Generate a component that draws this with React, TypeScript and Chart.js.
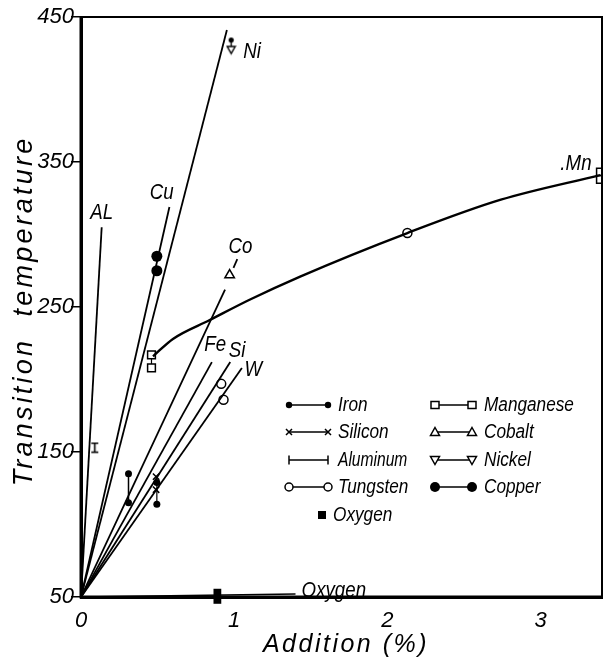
import React, { useEffect, useRef } from "react";
import { Chart, registerables } from "chart.js";

Chart.register(...registerables);

const FONT = "'Liberation Sans', Arimo, sans-serif";

// ---- axes ----
const xTickValues = [0, 1, 2, 3];
const yTickValues = [50, 150, 250, 350, 450];
const xRange = [0, 3.4];
const yRange = [50, 450];

// ---- straight lines from origin [x, y] ----
const aluminumLine = [[0, 50], [0.135, 305]];
const copperLine = [[0, 50], [0.577, 319]];
const nickelLine = [[0, 50], [0.952, 441]];
const cobaltLine = [[0, 50], [0.94, 262]];
const cobaltDash = [[0.995, 277], [1.02, 283]];
const ironLine = [[0, 50], [0.854, 212]];
const siliconLine = [[0, 50], [0.974, 212]];
const tungstenLine = [[0, 50], [1.05, 208]];
const oxygenLine = [[0, 50], [1.4, 52]];
const manganeseCurve = [[0.47, 216], [0.6, 228], [0.84, 241], [1.1, 255], [1.43, 271], [2.13, 301], [2.74, 324], [3.39, 341]];

// ---- measured points ----
const ironPairA = [[0.31, 135], [0.31, 115]];
const ironPairB = [[0.495, 129], [0.495, 114]];
const siliconPoints = [[0.49, 133], [0.49, 124]];
const aluminumPoints = [[0.09, 153]];
const tungstenPoints = [[0.915, 197], [0.93, 186]];
const manganesePointsLow = [[0.46, 217], [0.46, 208]];
const manganesePointsMid = [[2.13, 301]];
const manganesePointsHigh = [[3.39, 343], [3.39, 338]];
const cobaltPoints = [[0.97, 272]];
const nickelPoints = [[0.98, 430]];
const copperPoints = [[0.495, 285], [0.495, 275]];
const oxygenPoints = [[0.89, 53], [0.89, 48]];

// ---- labels on the curves ----
const curveLabelText = ["AL", "Cu", "Ni", "Co", "Fe", "Si", "W", ".Mn", "Oxygen"];
const curveLabelX = [0.135, 0.527, 1.116, 1.04, 0.876, 1.018, 1.124, 3.23, 1.65];
const curveLabelY = [315, 329, 426, 291.6, 224, 220, 206.5, 349, 54];

// ---- legend ----
const legendLeft = ["Iron", "Silicon", "Aluminum", "Tungsten"];
const legendLeftKinds = ["dot", "x", "bar", "circle"];
const legendRight = ["Manganese", "Cobalt", "Nickel", "Copper"];
const legendRightKinds = ["square", "tri", "tridown", "bigdot"];
const legendSingle = "Oxygen";

const xTitle = "Addition (%)";
const yTitle = "Transition  temperature";

const toXY = (pts: number[][]) => pts.map(([x, y]) => ({ x, y }));

function squeezed(ctx: CanvasRenderingContext2D, text: string, x: number, y: number, sx: number) {
  ctx.save();
  ctx.translate(x, y);
  ctx.scale(sx, 1);
  ctx.fillText(text, 0, 0);
  ctx.restore();
}

function drawMark(ctx: CanvasRenderingContext2D, kind: string, px: number, py: number) {
  ctx.save();
  ctx.strokeStyle = "#000";
  ctx.fillStyle = "#000";
  ctx.lineWidth = 1.5;
  ctx.beginPath();
  if (kind === "dot") {
    ctx.arc(px, py, 3.2, 0, Math.PI * 2);
    ctx.fill();
  } else if (kind === "bigdot") {
    ctx.arc(px, py, 5, 0, Math.PI * 2);
    ctx.fill();
  } else if (kind === "x") {
    ctx.moveTo(px - 3, py - 3); ctx.lineTo(px + 3, py + 3);
    ctx.moveTo(px + 3, py - 3); ctx.lineTo(px - 3, py + 3);
    ctx.stroke();
  } else if (kind === "bar") {
    ctx.moveTo(px, py - 4.5); ctx.lineTo(px, py + 4.5);
    ctx.stroke();
  } else if (kind === "circle") {
    ctx.fillStyle = "#fff";
    ctx.arc(px, py, 4, 0, Math.PI * 2);
    ctx.fill(); ctx.stroke();
  } else if (kind === "square") {
    ctx.fillStyle = "#fff";
    ctx.rect(px - 4, py - 3.5, 8, 7);
    ctx.fill(); ctx.stroke();
  } else if (kind === "fsquare") {
    ctx.rect(px - 4, py - 4, 8, 8);
    ctx.fill();
  } else if (kind === "tri") {
    ctx.fillStyle = "#fff";
    ctx.moveTo(px, py - 4.5); ctx.lineTo(px + 4.5, py + 3.5); ctx.lineTo(px - 4.5, py + 3.5); ctx.closePath();
    ctx.fill(); ctx.stroke();
  } else if (kind === "tridown") {
    ctx.fillStyle = "#fff";
    ctx.moveTo(px, py + 4.5); ctx.lineTo(px + 4.5, py - 3.5); ctx.lineTo(px - 4.5, py - 3.5); ctx.closePath();
    ctx.fill(); ctx.stroke();
  }
  ctx.restore();
}

function makeAlMarker() {
  const c = document.createElement("canvas");
  c.width = 9; c.height = 12;
  const g = c.getContext("2d")!;
  g.strokeStyle = "#000"; g.lineWidth = 1.6;
  g.beginPath();
  g.moveTo(1, 1.5); g.lineTo(8, 1.5);
  g.moveTo(4.5, 1.5); g.lineTo(4.5, 10.5);
  g.moveTo(1, 10.5); g.lineTo(8, 10.5);
  g.stroke();
  return c;
}

function makeNiMarker() {
  const c = document.createElement("canvas");
  c.width = 11; c.height = 19;
  const g = c.getContext("2d")!;
  g.strokeStyle = "#000"; g.fillStyle = "#000"; g.lineWidth = 1.4;
  g.beginPath(); g.arc(5.5, 3.5, 2.6, 0, Math.PI * 2); g.fill();
  g.beginPath(); g.moveTo(5.5, 4); g.lineTo(5.5, 10); g.stroke();
  g.beginPath(); g.moveTo(1.5, 10); g.lineTo(9.5, 10); g.lineTo(5.5, 17); g.closePath(); g.stroke();
  return c;
}

const overlay = {
  id: "overlay",
  afterDraw(chart: any) {
    const { ctx, chartArea: a, scales } = chart;
    const sx = scales.x, sy = scales.y;
    ctx.save();
    // frame
    ctx.strokeStyle = "#000";
    ctx.lineWidth = 2;
    ctx.strokeRect(a.left, a.top, a.right - a.left, a.bottom - a.top);
    ctx.lineWidth = 3;
    ctx.beginPath();
    ctx.moveTo(a.left, a.top); ctx.lineTo(a.left, a.bottom); ctx.lineTo(a.right, a.bottom);
    ctx.stroke();

    // curve labels
    ctx.fillStyle = "#000";
    ctx.font = `italic 22px ${FONT}`;
    ctx.textAlign = "center";
    ctx.textBaseline = "middle";
    curveLabelText.forEach((t, i) => {
      squeezed(ctx, t, sx.getPixelForValue(curveLabelX[i]), sy.getPixelForValue(curveLabelY[i]), 0.85);
    });

    // legend
    ctx.font = `italic 20px ${FONT}`;
    ctx.textAlign = "left";
    const rowY = [405, 432, 460, 487];
    const drawEntry = (kind: string, x1: number, x2: number, y: number) => {
      ctx.save();
      ctx.strokeStyle = "#000"; ctx.lineWidth = 1.4;
      ctx.beginPath(); ctx.moveTo(x1, y); ctx.lineTo(x2, y); ctx.stroke();
      ctx.restore();
      drawMark(ctx, kind, x1, y);
      drawMark(ctx, kind, x2, y);
    };
    legendLeft.forEach((t, i) => {
      drawEntry(legendLeftKinds[i], 289, 328, rowY[i]);
      squeezed(ctx, t, 338, rowY[i], i === 2 ? 0.78 : 0.86);
    });
    legendRight.forEach((t, i) => {
      drawEntry(legendRightKinds[i], 435, 472, rowY[i]);
      squeezed(ctx, t, 484, rowY[i], 0.86);
    });
    drawMark(ctx, "fsquare", 322, 515);
    squeezed(ctx, legendSingle, 333, 515, 0.86);

    // axis titles
    ctx.textAlign = "center";
    ctx.font = `italic 25px ${FONT}`;
    (ctx as any).letterSpacing = "2.5px";
    ctx.fillText(xTitle, 346, 645);
    ctx.save();
    ctx.translate(24, 311);
    ctx.rotate(-Math.PI / 2);
    ctx.font = `italic 27px ${FONT}`;
    (ctx as any).letterSpacing = "3.2px";
    ctx.fillText(yTitle, 0, 0);
    ctx.restore();
    ctx.restore();
  },
};

export default function App() {
  const ref = useRef<HTMLCanvasElement>(null);
  useEffect(() => {
    const canvas = ref.current!;
    const alMark = makeAlMarker();
    const niMark = makeNiMarker();
    const line = (pts: number[][], w = 1.8, extra: any = {}) => ({
      data: toXY(pts), showLine: true, borderColor: "#000", borderWidth: w,
      pointRadius: 0, fill: false, ...extra,
    });
    const pts = (p: number[][], extra: any) => ({
      data: toXY(p), showLine: false, borderColor: "#000", ...extra,
    });
    const tickFont = { family: FONT, size: 22, style: "italic" as const };
    const chart = new Chart(canvas, {
      type: "scatter",
      data: {
        datasets: [
          line(aluminumLine),
          line(copperLine),
          line(nickelLine),
          line(cobaltLine),
          line(cobaltDash),
          line(ironLine),
          line(siliconLine),
          line(tungstenLine),
          line(oxygenLine, 1.5),
          line(manganeseCurve, 2.4, { tension: 0.4, cubicInterpolationMode: "monotone" }),
          line(ironPairA, 1.5, { pointRadius: 3.5, pointBackgroundColor: "#000", pointBorderWidth: 0 }),
          line(ironPairB, 1.2, { pointRadius: 3.5, pointBackgroundColor: "#000", pointBorderWidth: 0 }),
          pts(siliconPoints, { pointStyle: "crossRot", pointRadius: 4.5, pointBorderWidth: 1.5 }),
          pts(aluminumPoints, { pointStyle: alMark }),
          pts(tungstenPoints, { pointStyle: "circle", pointRadius: 4.5, pointBackgroundColor: "#fff", pointBorderWidth: 1.5 }),
          line(manganesePointsLow, 1.2, { pointStyle: "rect", pointRadius: 5.5, pointBackgroundColor: "#fff", pointBorderWidth: 1.5 }),
          pts(manganesePointsMid, { pointStyle: "circle", pointRadius: 4.5, pointBackgroundColor: "#fff", pointBorderWidth: 1.5 }),
          pts(manganesePointsHigh, { pointStyle: "rect", pointRadius: 5.5, pointBackgroundColor: "#fff", pointBorderWidth: 1.5 }),
          pts(cobaltPoints, { pointStyle: "triangle", pointRadius: 5.5, pointBackgroundColor: "#fff", pointBorderWidth: 1.5 }),
          pts(nickelPoints, { pointStyle: niMark }),
          pts(copperPoints, { pointStyle: "circle", pointRadius: 5.5, pointBackgroundColor: "#000", pointBorderWidth: 0 }),
          pts(oxygenPoints, { pointStyle: "rect", pointRadius: 5.5, pointBackgroundColor: "#000", pointBorderWidth: 0, clip: false }),
        ],
      },
      options: {
        responsive: false,
        animation: false,
        events: [],
        layout: { padding: { left: 0, right: 14, top: 17, bottom: 0 } },
        plugins: { legend: { display: false }, tooltip: { enabled: false } },
        scales: {
          x: {
            type: "linear",
            min: xRange[0],
            max: xRange[1],
            afterBuildTicks: (s: any) => { s.ticks = xTickValues.map((v) => ({ value: v })); },
            afterFit: (s: any) => { s.height = 63; },
            grid: { drawOnChartArea: false, drawTicks: false },
            border: { color: "#000", width: 3 },
            ticks: { font: tickFont, color: "#000", padding: 11, maxRotation: 0 },
          },
          y: {
            type: "linear",
            min: yRange[0],
            max: yRange[1],
            afterBuildTicks: (s: any) => { s.ticks = yTickValues.map((v) => ({ value: v })); },
            afterFit: (s: any) => { s.width = 81; },
            grid: { drawOnChartArea: false, drawTicks: true, tickLength: 10, color: "#000", lineWidth: 1.5 },
            border: { color: "#000", width: 3 },
            ticks: { font: tickFont, color: "#000", padding: -3 },
          },
        },
      } as any,
      plugins: [overlay],
    });
    return () => chart.destroy();
  }, []);
  return (
    <div style={{ position: "absolute", left: 0, top: 0, width: 616, height: 660, background: "#fff" }}>
      <canvas ref={ref} width={616} height={660} style={{ display: "block" }} />
    </div>
  );
}
